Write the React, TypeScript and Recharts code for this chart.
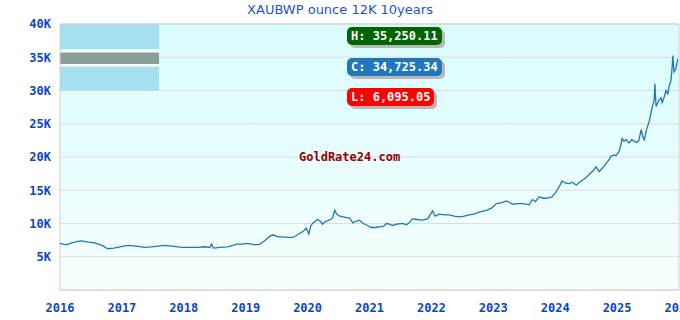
import { LineChart, Line, XAxis, YAxis, CartesianGrid, ReferenceArea } from 'recharts';

// time as fractional year, price of one ounce of 12K gold in BWP
const years = [
  2016.0, 2016.1, 2016.19, 2016.29, 2016.35, 2016.45, 2016.56, 2016.68, 2016.77, 2016.87, 2016.97,
  2017.1, 2017.23, 2017.37, 2017.48, 2017.58, 2017.69, 2017.81, 2017.9, 2017.97,
  2018.1, 2018.23, 2018.34, 2018.42, 2018.45, 2018.48, 2018.58, 2018.71, 2018.79, 2018.85, 2018.95,
  2019.03, 2019.15, 2019.23, 2019.29, 2019.39, 2019.44, 2019.52, 2019.6, 2019.68, 2019.76, 2019.82, 2019.87, 2019.94, 2019.98,
  2020.02, 2020.05, 2020.08, 2020.13, 2020.16, 2020.21, 2020.24, 2020.29, 2020.35, 2020.4, 2020.44, 2020.47, 2020.52,
  2020.58, 2020.63, 2020.68, 2020.73, 2020.77, 2020.84, 2020.9, 2020.97,
  2021.03, 2021.1, 2021.16, 2021.23, 2021.27, 2021.32, 2021.37, 2021.44, 2021.53, 2021.6, 2021.65, 2021.69, 2021.77, 2021.85, 2021.94, 2021.98,
  2022.02, 2022.06, 2022.13, 2022.21, 2022.29, 2022.37, 2022.45, 2022.53, 2022.61, 2022.69, 2022.77, 2022.85, 2022.9, 2022.97,
  2023.05, 2023.13, 2023.21, 2023.26, 2023.31, 2023.39, 2023.47, 2023.53, 2023.58, 2023.63, 2023.68, 2023.74, 2023.81, 2023.85, 2023.9, 2023.95,
  2024.0, 2024.03, 2024.08, 2024.11, 2024.16, 2024.23, 2024.27, 2024.34, 2024.39, 2024.44, 2024.5, 2024.55, 2024.61, 2024.66, 2024.71, 2024.76, 2024.82, 2024.87, 2024.9, 2024.95, 2024.98,
  2025.03, 2025.06, 2025.08, 2025.11, 2025.15, 2025.19, 2025.24, 2025.29, 2025.32, 2025.35, 2025.39, 2025.42, 2025.44, 2025.48, 2025.52, 2025.55, 2025.58, 2025.6, 2025.61, 2025.63,
  2025.68, 2025.71, 2025.73, 2025.76, 2025.79, 2025.82, 2025.84, 2025.87, 2025.89, 2025.9, 2025.92, 2025.95, 2025.98,
];

const prices = [
  7000, 6800, 7100, 7300, 7400, 7200, 7100, 6700, 6200, 6300, 6500,
  6700, 6600, 6400, 6500, 6600, 6700, 6600, 6500, 6400,
  6400, 6400, 6500, 6400, 6900, 6300, 6400, 6500, 6700, 6900, 6900,
  7000, 6800, 6900, 7300, 8100, 8300, 8000, 8000, 7900, 7900, 8200, 8500, 8900, 9300,
  8400, 9600, 10000, 10400, 10600, 10300, 9900, 10300, 10500, 10800, 12000, 11400, 11100,
  11000, 10900, 10800, 10100, 10300, 10500, 10000, 9700,
  9400, 9400, 9500, 9600, 10000, 9900, 9700, 9900, 10000, 9800, 10200, 10700, 10600, 10500, 10700, 11300,
  11900, 11100, 11400, 11300, 11300, 11100, 11000, 11100, 11300, 11400, 11700, 11900, 12000, 12300,
  13000, 13100, 13400, 13200, 12900, 13000, 13000, 12900, 12800, 13600, 13300, 14000, 13800, 13800, 13900, 14000,
  14600, 15000, 15800, 16400, 16100, 16000, 16200, 15800, 16200, 16500, 16900, 17400, 17900, 18500, 17800, 18300, 19000, 19600, 20100, 20300, 20200,
  20800, 21800, 22800, 22400, 22600, 22100, 22600, 22300, 22200, 22500, 24100, 22900, 22600, 24300, 25400, 26800, 27900, 28600, 31000, 27600,
  28600, 28900, 28200, 29000, 30000, 29500, 30600, 31500, 33600, 35250, 32800, 33300, 34725,
];

const yTicks = [5000, 10000, 15000, 20000, 25000, 30000, 35000, 40000];
const xTicks = [2016, 2017, 2018, 2019, 2020, 2021, 2022, 2023, 2024, 2025, 2026];

const statLabels = ['H: 35,250.11', 'C: 34,725.34', 'L: 6,095.05'];
const statColors = ['#006400', '#2277bb', '#ff0000'];

const data = years.map((t, i) => ({ t, price: prices[i] }));

const mono = '"DejaVu Sans Mono", monospace';
const tickStyle = { fill: '#0b45c8', fontFamily: mono, fontWeight: 'bold', fontSize: 12 };

export default function App() {
  return (
    <div style={{ position: 'absolute', left: 0, top: 0, width: 680, height: 320, overflow: 'hidden', background: '#fff' }}>
      <LineChart width={680} height={320} data={data} margin={{ top: 24, right: 1, bottom: 0, left: 0 }}>
        <defs>
          <linearGradient id="bg" x1="0" y1="0" x2="0" y2="1">
            <stop offset="0%" stopColor="#d9fcfc" />
            <stop offset="100%" stopColor="#f7ffff" />
          </linearGradient>
        </defs>
        <CartesianGrid vertical={false} stroke="#dddddd" fill="url(#bg)" fillOpacity={1} />
        <XAxis
          dataKey="t"
          type="number"
          domain={[2016, 2026]}
          ticks={xTicks}
          height={30}
          tickLine={false}
          axisLine={false}
          tickSize={0}
          tickMargin={13}
          tick={tickStyle}
          interval={0}
        />
        <YAxis
          domain={[0, 40000]}
          ticks={yTicks}
          width={60}
          tickLine={false}
          axisLine={false}
          tickSize={0}
          tickMargin={9}
          tick={tickStyle}
          tickFormatter={(v: number) => `${v / 1000}K`}
          interval={0}
        />
        {/* Botswana flag in the top-left corner */}
        <ReferenceArea x1={2016} x2={2017.6} y1={30000} y2={40000} fill="#9bdaee" fillOpacity={0.85} stroke="none" />
        <ReferenceArea x1={2016} x2={2017.6} y1={33600} y2={36200} fill="#ffffff" fillOpacity={0.9} stroke="none" />
        <ReferenceArea x1={2016} x2={2017.6} y1={34000} y2={35700} fill="#7f9490" fillOpacity={0.9} stroke="none" />
        <ReferenceArea x1={2016} x2={2026} y1={0} y2={40000} fill="none" stroke="#d0d0d0" strokeWidth={1} />
        <Line
          type="linear"
          dataKey="price"
          stroke="#1f78b4"
          strokeWidth={1.3}
          dot={false}
          isAnimationActive={false}
        />
      </LineChart>
      <div
        style={{
          position: 'absolute', left: 0, top: 2, width: 680, textAlign: 'center',
          fontFamily: '"DejaVu Sans", sans-serif', fontSize: 13, color: '#2255cc',
        }}
      >
        XAUBWP ounce 12K 10years
      </div>
      {statLabels.map((s, i) => (
        <div
          key={s}
          style={{
            position: 'absolute', left: 347, top: 27 + i * 30.5, height: 18, lineHeight: '18px',
            padding: '0 4px', borderRadius: 5, background: statColors[i], color: '#fff',
            fontFamily: mono, fontWeight: 'bold', fontSize: 12, boxShadow: '3px 3px 0 #b8b8b8',
            whiteSpace: 'nowrap',
          }}
        >
          {s}
        </div>
      ))}
      <div
        style={{
          position: 'absolute', left: 299, top: 150, fontFamily: mono, fontWeight: 'bold',
          fontSize: 12, color: '#990000',
        }}
      >
        GoldRate24.com
      </div>
    </div>
  );
}
